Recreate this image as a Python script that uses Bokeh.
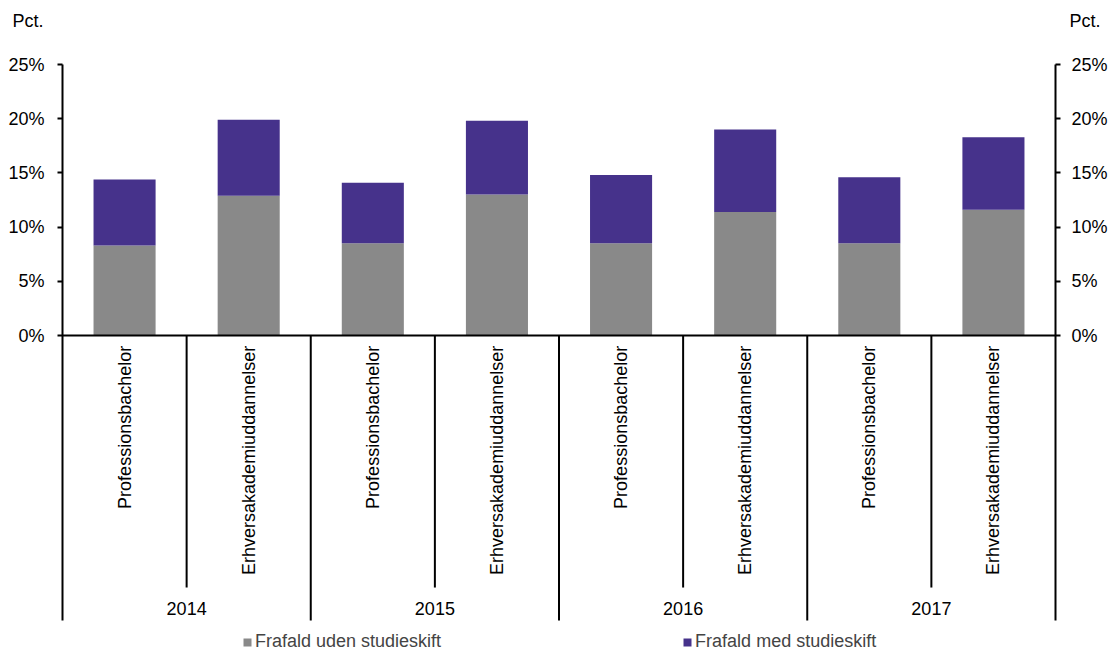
import math
from bokeh.plotting import figure
from bokeh.layouts import column
from bokeh.models import (Range1d, LinearAxis, FixedTicker, PrintfTickFormatter, ColumnDataSource,
                          Legend, LegendItem, Span)
from bokeh.core.properties import value
from bokeh.embed import file_html
from bokeh.resources import INLINE

# ---- data ----
years = ["2014", "2015", "2016", "2017"]
programs = ["Professionsbachelor", "Erhversakademiuddannelser"]
uden_studieskift = [8.3, 12.9, 8.5, 13.0, 8.5, 11.4, 8.5, 11.6]
med_studieskift = [6.1, 7.0, 5.6, 6.8, 6.3, 7.6, 6.1, 6.7]
series_names = ["Frafald uden studieskift", "Frafald med studieskift"]
y_ticks = [0, 5, 10, 15, 20, 25]
unit_label = "Pct."

FONT = "Liberation Sans"
FS = "18px"
GREY = "#898989"
PURPLE = "#46328B"

n = len(years) * len(programs)
sub_labels = [programs[i % len(programs)] for i in range(n)]
xs = [i + 0.5 for i in range(n)]

src = ColumnDataSource(dict(x=xs, uden=uden_studieskift, med=med_studieskift, label=sub_labels))

PX = 271 / 25.0            # pixels per percentage point (vertical)
LEFT = 62
TOP_H = 40
FRAME_H = 653 - TOP_H
Y_MAX = 25 + (64 - TOP_H) / PX
Y_MIN = Y_MAX - FRAME_H / PX
AX_BOTTOM = -26.3

# --- top strip carrying the unit labels (as axis labels) ---
top = figure(frame_width=993, height=TOP_H,
             x_range=Range1d(0, n), y_range=Range1d(0, 2),
             x_axis_type=None, y_axis_type=None,
             output_backend="svg", toolbar_location=None,
             min_border_left=LEFT, min_border_top=0, min_border_right=0, min_border_bottom=0)
top.grid.visible = False
top.outline_line_color = None
for side, standoff in [("left", 19), ("right", 14)]:
    uax = LinearAxis(ticker=FixedTicker(ticks=[1]), major_label_overrides={1: unit_label},
                     axis_line_color=None, major_tick_line_color=None,
                     major_tick_out=0, major_tick_in=0, minor_tick_out=0, minor_tick_in=0,
                     major_label_text_font=FONT, major_label_text_font_size=FS,
                     major_label_text_color="black", major_label_standoff=standoff)
    top.add_layout(uax, side)

# --- main chart ---
p = figure(frame_width=993, frame_height=FRAME_H,
           x_range=Range1d(0, n), y_range=Range1d(Y_MIN, Y_MAX),
           x_axis_type=None, y_axis_type=None,
           output_backend="svg", toolbar_location=None,
           min_border_left=LEFT, min_border_top=0, min_border_right=0, min_border_bottom=0)
p.grid.visible = False
p.outline_line_color = None

renderers = p.vbar_stack(["uden", "med"], x="x", width=0.5, source=src,
                         color=[GREY, PURPLE], line_color=None)

for side, standoff in [("left", 13), ("right", 11)]:
    ax = LinearAxis(ticker=FixedTicker(ticks=y_ticks), bounds=(AX_BOTTOM, 25),
                    formatter=PrintfTickFormatter(format="%d%%"),
                    major_tick_out=5, major_tick_in=0,
                    minor_tick_out=0, minor_tick_in=0,
                    axis_line_width=2, major_tick_line_width=2,
                    axis_line_color="black", major_tick_line_color="black",
                    major_label_text_font=FONT, major_label_text_font_size=FS,
                    major_label_text_color="black", major_label_standoff=standoff)
    p.add_layout(ax, side)

p.add_layout(Span(location=0, dimension="width", line_color="black", line_width=2))

inner_x = [i for i in range(1, n) if i % len(programs) != 0]
group_x = [i for i in range(len(programs), n, len(programs))]
p.segment(x0=inner_x, y0=[0] * len(inner_x), x1=inner_x, y1=[-23.25] * len(inner_x),
          line_color="black", line_width=2)
p.segment(x0=group_x, y0=[0] * len(group_x), x1=group_x, y1=[AX_BOTTOM] * len(group_x),
          line_color="black", line_width=2)

p.text(x="x", y=-0.95, text="label", source=src, angle=math.pi / 2,
       text_align="right", text_baseline="middle",
       text_font=value(FONT), text_font_size=FS, text_color="black")
group_centers = [g * len(programs) + len(programs) / 2 for g in range(len(years))]
p.text(x=group_centers, y=[-25.2] * len(years), text=years,
       text_align="center", text_baseline="middle",
       text_font=value(FONT), text_font_size=FS, text_color="black")

legend = Legend(items=[LegendItem(label=series_names[i], renderers=[renderers[i]]) for i in range(2)],
                orientation="horizontal", location=(180, 1), spacing=241,
                glyph_width=10, glyph_height=10, label_standoff=3,
                label_text_font=FONT, label_text_font_size=FS,
                border_line_color=None, background_fill_alpha=0,
                padding=0, margin=0)
p.add_layout(legend)

layout = column(top, p, spacing=0)
open("out.html", "w").write(file_html(layout, INLINE))
